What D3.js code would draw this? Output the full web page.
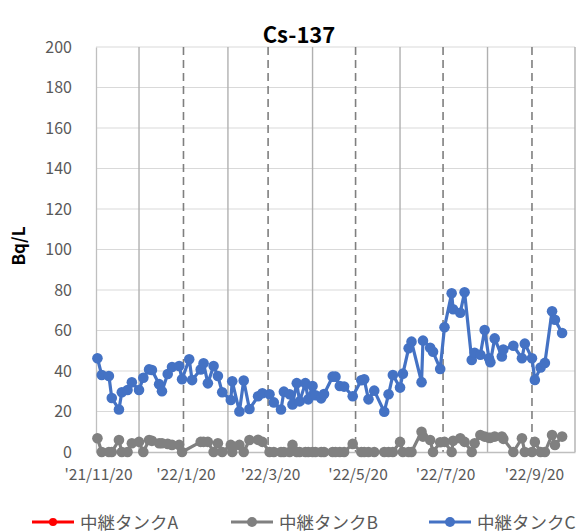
<!DOCTYPE html>
<html>
<head>
<meta charset="utf-8">
<script src="https://cdn.jsdelivr.net/npm/d3@7/dist/d3.min.js"></script>
<style>
  html, body { margin: 0; padding: 0; background: #fff; }
  svg { display: block; }
  text { font-family: "Noto Sans CJK JP", "Noto Sans", sans-serif; }
</style>
</head>
<body>
<svg id="chart" width="581" height="532"></svg>
<script>
// Sampling dates shared by the relay-tank series
const sampleDates = [
  "2021-11-21","2021-11-24","2021-11-29","2021-12-01","2021-12-06","2021-12-08","2021-12-12","2021-12-15",
  "2021-12-20","2021-12-23","2021-12-27","2021-12-29","2022-01-03","2022-01-05","2022-01-09","2022-01-12",
  "2022-01-17","2022-01-19","2022-01-24","2022-01-26","2022-02-01","2022-02-03","2022-02-06","2022-02-10",
  "2022-02-13","2022-02-16","2022-02-22","2022-02-23","2022-02-28","2022-03-03","2022-03-07","2022-03-13",
  "2022-03-16","2022-03-21","2022-03-24","2022-03-29","2022-03-31","2022-04-04","2022-04-06","2022-04-09",
  "2022-04-11","2022-04-15","2022-04-17","2022-04-20","2022-04-22","2022-04-26","2022-04-28","2022-05-04",
  "2022-05-06","2022-05-09","2022-05-12","2022-05-18","2022-05-24","2022-05-26","2022-05-29","2022-06-02",
  "2022-06-09","2022-06-12","2022-06-15","2022-06-20","2022-06-22","2022-06-26","2022-06-28","2022-07-05",
  "2022-07-06","2022-07-11","2022-07-13","2022-07-18","2022-07-21","2022-07-26","2022-07-27","2022-08-01",
  "2022-08-04","2022-08-09","2022-08-11","2022-08-15","2022-08-18","2022-08-21","2022-08-22","2022-08-25",
  "2022-08-30","2022-08-31","2022-09-07","2022-09-13","2022-09-15","2022-09-20","2022-09-22","2022-09-26",
  "2022-09-29","2022-10-04","2022-10-06","2022-10-11"
];

// 中継タンクA: no results plotted in this period
const tankA = [];

// 中継タンクB (Bq/L); null = not measured on that date
const tankB = [
  6.8, 0, 0, 0, 5.9, 0, 0, 4.3,
  5, 0, 5.9, 5.5, 4.3, 4.3, 4, 3.5,
  3.5, 0, null, null, 5, 5, 5, 0,
  4.3, 0, 3.5, 0, 3.5, 0, 5.9, 6,
  5, 0, 0, 0, 0, 0, 3.5, 0,
  0, 0, 0, 0, 0, 0, 0, 0,
  0, 0, 0, 4, 0, 0, 0, 0,
  0, 0, 0, 5, 0, 0, 0, 10,
  7.6, 5.9, 0, 4.8, 5, 0, 5.5, 6.8,
  5, 0, 4.3, 8.4, 7.6, 7, 7, 7.6,
  7.6, 6.5, 0, 6.8, 0, 0, 5, 0,
  0, 8.4, 3.5, 7.6
];

// 中継タンクC (Bq/L)
const tankC = [
  46.3, 38, 37.5, 26.7, 21, 29.5, 30.6, 34.4,
  30.6, 36.7, 40.8, 40.5, 33.5, 30, 38.5, 42,
  42.5, 35.9, 45.8, 35.5, 40.8, 43.8, 33.9, 42.5,
  37.5, 29.5, 25.7, 34.9, 20, 35.3, 21.2, 27.5,
  29, 28.5, 24.5, 21, 29.8, 28.5, 23.5, 34,
  25, 34, 26, 32.6, 28, 26.5, 28.6, 37.2,
  37.2, 32.6, 32.3, 27.5, 35.4, 35.9, 26, 30.3,
  19.9, 28.5, 38, 31.8, 38.7, 51.2, 54.5, 34.5,
  55, 51.5, 49.5, 41, 61.6, 78.4, 70.5, 68.8,
  78.9, 45.4, 49, 48, 60.2, 46.3, 44.3, 56.1,
  47.2, 50.6, 52.5, 46.3, 53.5, 46.3, 35.6, 41.7,
  44, 69.5, 65.3, 58.8
];

// Axis ticks
const yTicks = [0, 20, 40, 60, 80, 100, 120, 140, 160, 180, 200];
const xLabelDates = ["2021-11-20","2022-01-20","2022-03-20","2022-05-20","2022-07-20","2022-09-20"];
const xTickLabels = ["'21/11/20","'22/1/20","'22/3/20","'22/5/20","'22/7/20","'22/9/20"];
const monthGridDates = ["2021-12-20","2022-02-20","2022-04-20","2022-06-20","2022-08-20","2022-10-20"];
const xDomain = ["2021-11-20","2022-10-20"];

const seriesNames = ["中継タンクA","中継タンクB","中継タンクC"];
const seriesColors = ["#FF0000","#808080","#4472C4"];

const parse = d3.timeParse("%Y-%m-%d");
const svg = d3.select("#chart");

const plotLeft = 96, plotRight = 575, plotTop = 47, plotBottom = 452;
const x = d3.scaleTime().domain(xDomain.map(parse)).range([plotLeft, plotRight]);
const y = d3.scaleLinear().domain([0, 200]).range([plotBottom, plotTop]);

// Horizontal gridlines
svg.append("g").selectAll("line").data(yTicks.filter(v => v > 0)).join("line")
  .attr("x1", plotLeft).attr("x2", plotRight)
  .attr("y1", d => y(d)).attr("y2", d => y(d))
  .attr("stroke", "#D9D9D9").attr("stroke-width", 1.2);

// Monthly solid verticals
svg.append("g").selectAll("line").data(monthGridDates.map(parse)).join("line")
  .attr("x1", d => x(d)).attr("x2", d => x(d))
  .attr("y1", plotTop).attr("y2", plotBottom)
  .attr("stroke", "#B0B0B0").attr("stroke-width", 1.4);

// Dashed verticals at the labelled dates
svg.append("g").selectAll("line").data(xLabelDates.slice(1).map(parse)).join("line")
  .attr("x1", d => x(d)).attr("x2", d => x(d))
  .attr("y1", plotTop).attr("y2", plotBottom)
  .attr("stroke", "#7F7F7F").attr("stroke-width", 1.6)
  .attr("stroke-dasharray", "8,5");

// Y axis
const yAxis = svg.append("g").attr("transform", `translate(${plotLeft},0)`)
  .call(d3.axisLeft(y).tickValues(yTicks).tickSize(0).tickPadding(24));
yAxis.select(".domain").attr("stroke", "#BFBFBF").attr("stroke-width", 1.3);
yAxis.selectAll("text").attr("font-size", 16).attr("fill", "#595959")
  .attr("font-family", "'Noto Sans CJK JP', sans-serif");

// X axis
const xAxis = svg.append("g").attr("transform", `translate(0,${plotBottom})`)
  .call(d3.axisBottom(x).tickValues(xLabelDates.map(parse))
    .tickFormat((d, i) => xTickLabels[i]).tickSize(0).tickPadding(17));
xAxis.select(".domain").attr("stroke", "#BFBFBF").attr("stroke-width", 1.3);
xAxis.selectAll("text").attr("font-size", 15.5).attr("fill", "#595959")
  .attr("font-family", "'Noto Sans CJK JP', sans-serif")
  .attr("dx", 2);

// Series
const allSeries = [tankA, tankB, tankC].map((vals, i) => ({
  name: seriesNames[i],
  color: seriesColors[i],
  points: vals.map((v, j) => ({ date: parse(sampleDates[j]), value: v }))
    .filter(p => p.value !== null && p.value !== undefined)
}));

const line = d3.line().x(d => x(d.date)).y(d => y(d.value));

allSeries.forEach(s => {
  const g = svg.append("g");
  g.append("path").datum(s.points)
    .attr("d", line).attr("fill", "none")
    .attr("stroke", s.color).attr("stroke-width", 3.2)
    .attr("stroke-linejoin", "round");
  g.selectAll("circle").data(s.points).join("circle")
    .attr("cx", d => x(d.date)).attr("cy", d => y(d.value))
    .attr("r", 5.3).attr("fill", s.color);
});

// Title
svg.append("text").attr("x", 299).attr("y", 43).attr("text-anchor", "middle")
  .attr("font-size", 22).attr("font-weight", "bold").attr("fill", "#000")
  .text("Cs-137");

// Y-axis title
svg.append("text").attr("transform", "translate(25,246) rotate(-90)")
  .attr("text-anchor", "middle").attr("font-size", 17).attr("font-weight", "bold")
  .attr("fill", "#000").text("Bq/L");

// Legend
const legendX = [32, 231, 429];
const legend = svg.append("g");
allSeries.forEach((s, i) => {
  const lg = legend.append("g").attr("transform", `translate(${legendX[i]},522)`);
  lg.append("line").attr("x1", 0).attr("x2", 42).attr("y1", 0).attr("y2", 0)
    .attr("stroke", s.color).attr("stroke-width", 3);
  lg.append("circle").attr("cx", 21).attr("cy", 0).attr("r", i === 0 ? 4 : 5).attr("fill", s.color);
  lg.append("text").attr("x", 48).attr("y", 6.5).attr("font-size", 17.5)
    .attr("fill", "#595959").text(s.name);
});
</script>
</body>
</html>
